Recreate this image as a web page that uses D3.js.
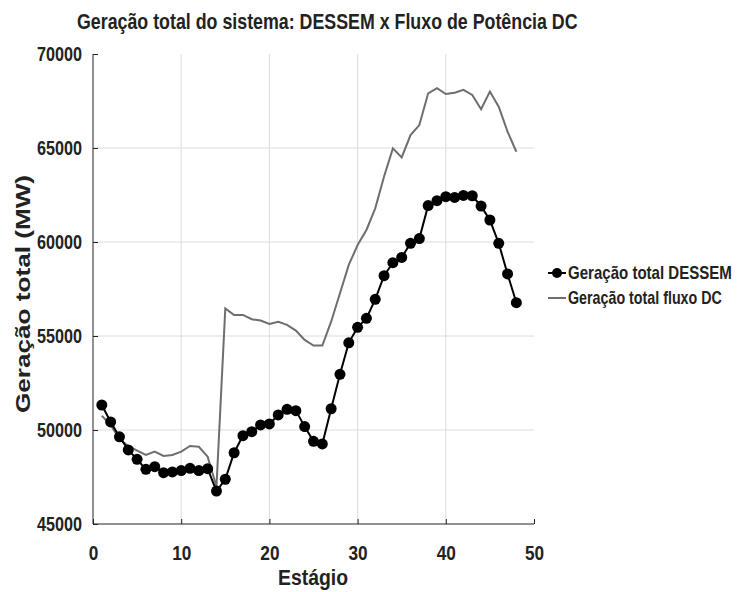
<!DOCTYPE html>
<html><head><meta charset="utf-8">
<script src="https://cdn.jsdelivr.net/npm/d3@7"></script>
<style>
html,body{margin:0;padding:0;background:#fff;}
svg{display:block;}
text{font-family:"Liberation Sans",Arial,sans-serif;font-weight:bold;fill:#222;}
</style></head>
<body>
<svg id="chart" width="737" height="592"></svg>
<script>
const stages = d3.range(1, 49);
const dessem = [51330,50430,49640,48940,48440,47910,48050,47730,47770,47840,47960,47840,47940,46750,
  47380,48790,49700,49910,50270,50320,50800,51100,51030,50180,49400,49260,51130,52960,54640,55460,
  55940,56950,58210,58900,59180,59930,60180,61940,62200,62410,62370,62480,62460,61910,61170,59930,58300,56770];
const fluxoDC = [50760,50270,49520,49150,48900,48670,48850,48620,48670,48850,49150,49110,48580,46990,
  56470,56120,56120,55890,55820,55640,55760,55590,55290,54790,54490,54490,55760,57270,58780,59840,
  60640,61790,63480,64980,64500,65690,66220,67910,68180,67870,67940,68090,67820,67060,68000,67200,65870,64800];
const xTicks = [0,10,20,30,40,50];
const yTicks = [45000,50000,55000,60000,65000,70000];
const seriesNames = ["Geração total DESSEM","Geração total fluxo DC"];
const titleText = "Geração total do sistema: DESSEM x Fluxo de Potência DC";
const xLabel = "Estágio";
const yLabel = "Geração total (MW)";

const svg = d3.select("#chart");
const x = d3.scaleLinear().domain([0,50]).range([93,534]);
const y = d3.scaleLinear().domain([45000,70000]).range([524,54]);

function fit(sel, w){ sel.each(function(){ this.setAttribute("textLength", w); this.setAttribute("lengthAdjust","spacingAndGlyphs"); }); }
function squeeze(sel, k){ sel.each(function(){ const w=this.getComputedTextLength(); this.setAttribute("textLength", w*k); this.setAttribute("lengthAdjust","spacingAndGlyphs"); }); }
// text placed at (px,py), scaled horizontally so its width is w
function scaledText(px, py, size, str, w, fill){
  const g = svg.append("g");
  const t = g.append("text").attr("x",0).attr("y",0).style("font-size",size+"px").attr("fill",fill).text(str);
  const nat = t.node().getComputedTextLength();
  g.attr("transform",`translate(${px},${py}) scale(${w/nat},1)`);
  return t;
}

// grid
svg.append("g").selectAll("line").data(xTicks.slice(1,-1)).join("line")
  .attr("x1",d=>x(d)).attr("x2",d=>x(d)).attr("y1",y(45000)).attr("y2",y(70000))
  .attr("stroke","#dcdcdc").attr("stroke-width",1);
svg.append("g").selectAll("line").data(yTicks.slice(1,-1)).join("line")
  .attr("y1",d=>y(d)).attr("y2",d=>y(d)).attr("x1",x(0)).attr("x2",x(50))
  .attr("stroke","#dcdcdc").attr("stroke-width",1);

// axes
const xAxis = d3.axisBottom(x).tickValues(xTicks).tickSize(-5).tickFormat(d3.format("d"));
const gx = svg.append("g").attr("transform",`translate(0,${y(45000)})`).call(xAxis);
gx.select(".domain").attr("stroke","#222").attr("d",`M${x(0)},0H${x(50)}`);
gx.selectAll(".tick line").attr("stroke","#222");
gx.selectAll(".tick text").style("font-size","21px").attr("fill","#222").attr("y",36).attr("dy",0)
  .call(squeeze,0.82);

const yAxis = d3.axisLeft(y).tickValues(yTicks).tickSize(-5).tickPadding(11).tickFormat(d3.format("d"));
const gy = svg.append("g").attr("transform",`translate(${x(0)},0)`).call(yAxis);
gy.select(".domain").attr("stroke","#222").attr("d",`M0,${y(70000)}V${y(45000)}`);
gy.selectAll(".tick line").attr("stroke","#222");
gy.selectAll(".tick text").style("font-size","21px").attr("fill","#222");
fit(gy.selectAll(".tick text"),45);

// lines
const line = d3.line().x((d,i)=>x(stages[i])).y(d=>y(d));
svg.append("path").datum(fluxoDC).attr("d",line).attr("fill","none").attr("stroke","#6e6e6e").attr("stroke-width",2);
svg.append("path").datum(dessem).attr("d",line).attr("fill","none").attr("stroke","#000").attr("stroke-width",2);
svg.append("g").selectAll("circle").data(dessem).join("circle")
  .attr("cx",(d,i)=>x(stages[i])).attr("cy",d=>y(d)).attr("r",5.5).attr("fill","#000");

// title & labels
scaledText(77, 29, 22, titleText, 501, "#111");
svg.append("text").attr("x",313).attr("y",585).attr("text-anchor","middle").style("font-size","22px").attr("fill","#333").text(xLabel).call(fit,70);
svg.append("text").attr("transform","translate(30,294) rotate(-90)").attr("text-anchor","middle")
  .style("font-size","21px").attr("fill","#333").text(yLabel).call(fit,238);

// legend
const lg = svg.append("g");
lg.append("line").attr("x1",548).attr("x2",566).attr("y1",273).attr("y2",273).attr("stroke","#000").attr("stroke-width",2);
lg.append("circle").attr("cx",557).attr("cy",273).attr("r",5).attr("fill","#000");
lg.append("line").attr("x1",548).attr("x2",566).attr("y1",298).attr("y2",298).attr("stroke","#6e6e6e").attr("stroke-width",2);
scaledText(568, 279, 18, seriesNames[0], 164, "#111");
scaledText(568, 304, 18, seriesNames[1], 154, "#111");
</script>
</body></html>
